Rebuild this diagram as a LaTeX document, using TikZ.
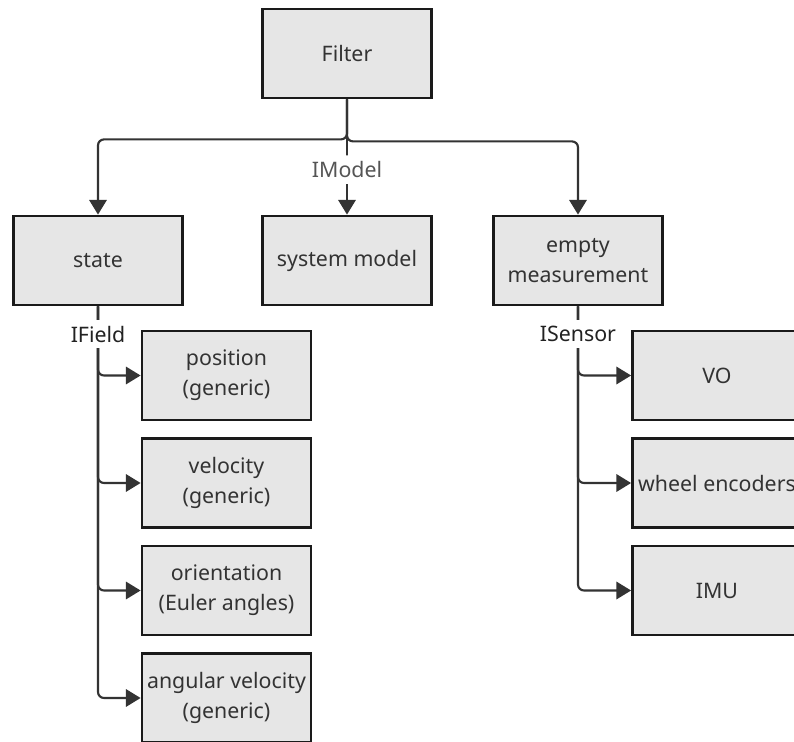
\documentclass[tikz,border=0pt]{standalone}
\usepackage{fontspec}
\setmainfont{Noto Sans}
\usetikzlibrary{arrows.meta}
\definecolor{boxfill}{HTML}{E6E6E6}
\definecolor{boxline}{HTML}{1A1A1A}
\definecolor{linkline}{HTML}{333333}
\definecolor{boxtext}{HTML}{333333}
\definecolor{modellabel}{HTML}{555555}
\definecolor{ifacelabel}{HTML}{222222}
\tikzset{
  block/.style={
    draw=boxline,
    line width=2.1pt,
    fill=boxfill,
    align=center,
    font=\fontsize{16}{22.5}\selectfont,
    text=boxtext,
    inner sep=0pt,
    minimum width=126.75pt,
    minimum height=66.75pt
  },
  link/.style={draw=linkline, line width=1.6pt, rounded corners=4.5pt, -{Triangle[length=11pt,width=13pt]}},
  ifacelabel/.style={fill=white, text=ifacelabel, font=\fontsize{16}{18}\selectfont, inner xsep=2pt, inner ysep=4.5pt},
  modellabel/.style={fill=white, text=modellabel, font=\fontsize{16}{18}\selectfont, inner xsep=2pt, inner ysep=4.5pt}
}

\begin{document}
\begin{tikzpicture}[x=0.75pt,y=-0.75pt]
\path[use as bounding box] (0,0) rectangle (794,742);
\fill[white] (0,0) rectangle (794,742);

\node[block] (filter) at (347,53.5) {Filter};

\node[block] (state) at (98,260.5) {state};
\node[block] (sysmodel) at (347,260.5) {system model};
\node[block] (measure) at (578,260.5) {empty\\measurement};

\node[block] (position) at (226.5,375.5) {position\\(generic)};
\node[block] (velocity) at (226.5,483) {velocity\\(generic)};
\node[block] (orient) at (226.5,590.5) {orientation\\(Euler angles)};
\node[block] (angvel) at (226.5,698) {angular velocity\\(generic)};

\node[block] (vo) at (717,375.5) {VO};
\node[block] (wheel) at (717,483) {wheel encoders};
\node[block] (imu) at (717,590.5) {IMU};

\draw[link] (filter.south) -- ++(0,40) -| (state.north);
\draw[link] (filter.south) -- ++(0,42) -| (measure.north);
\draw[link] (filter.south) -- node[modellabel, pos=0.61] {IModel} (sysmodel.north);

\draw[link] (state.south) |- (position.west);
\draw[link] (state.south) |- (velocity.west);
\draw[link] (state.south) |- (orient.west);
\draw[link] (state.south) |- (angvel.west);
\node[ifacelabel] (ifield) at (98,334) {IField};

\draw[link] (measure.south) |- (vo.west);
\draw[link] (measure.south) |- (wheel.west);
\draw[link] (measure.south) |- (imu.west);
\node[ifacelabel] (isensor) at (578,334) {ISensor};

\end{tikzpicture}
\end{document}
